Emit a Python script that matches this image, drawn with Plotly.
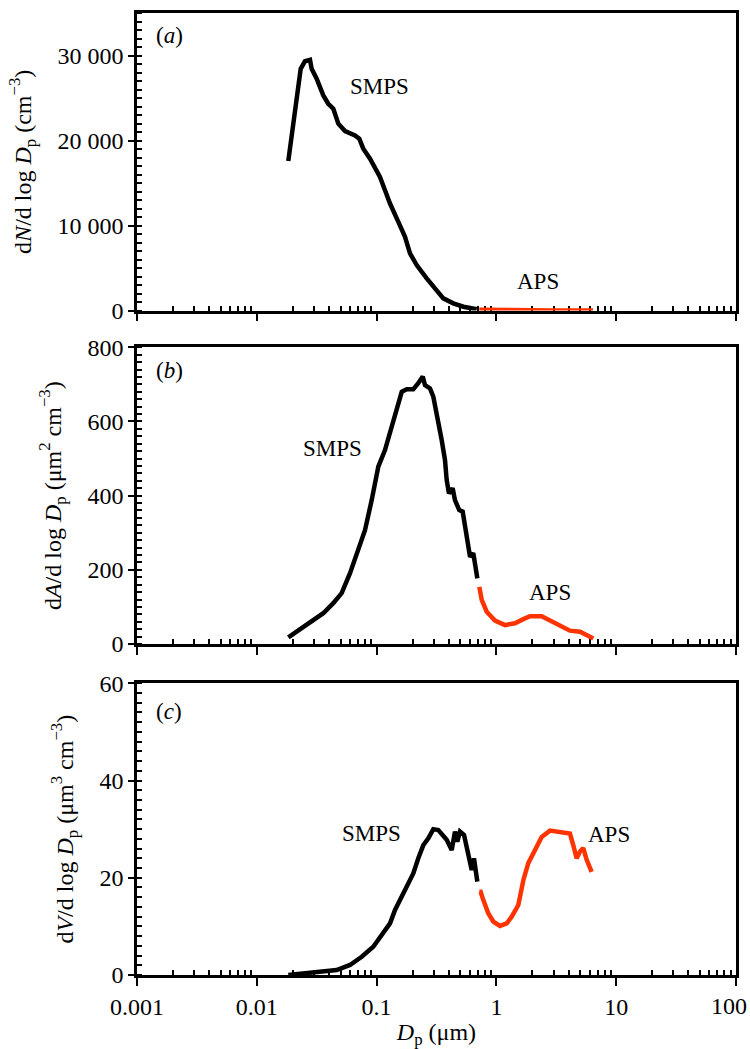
import math
import plotly.graph_objects as go

# ---------------- data ----------------
# (a) number distribution
smps_n_dp = [0.01832, 0.01955, 0.02084, 0.02220, 0.02325, 0.02525, 0.0278, 0.0287, 0.0316, 0.0359,
             0.0395, 0.0435, 0.0479, 0.0545, 0.0660, 0.0717, 0.0774, 0.0881, 0.1067, 0.1175,
             0.1294, 0.1518, 0.1726, 0.1900, 0.2161, 0.2620, 0.307, 0.3606, 0.4368, 0.530, 0.685]
smps_n = [17587, 20404, 23539, 26673, 28434, 29327, 29491, 28434, 27260, 25300,
          24325, 23738, 21977, 21109, 20604, 20216, 19042, 17868, 15708, 14147,
          12585, 10425, 8664, 6715, 5342, 3780, 2606, 1432, 845, 446, 141]
aps_n_dp = [0.72, 0.85, 1.0, 1.5, 2.0, 3.0, 4.0, 5.0, 6.4]
aps_n = [90, 60, 45, 25, 18, 10, 6, 4, 2]

# (b) surface area distribution
smps_a_dp = [0.01832, 0.02153, 0.0278, 0.0359, 0.0435, 0.0511, 0.060, 0.0682, 0.080, 0.0910,
             0.1033, 0.1175, 0.1336, 0.1472, 0.1621, 0.1783, 0.2024, 0.2229, 0.2427, 0.2535,
             0.2792, 0.2973, 0.3273, 0.3493, 0.3724, 0.3846, 0.4018, 0.4315, 0.4509, 0.4899,
             0.5231, 0.5470, 0.5824, 0.6025, 0.6415, 0.6627, 0.6933]
smps_a = [18, 33, 60, 83, 110, 137, 191, 240, 307, 388,
          478, 523, 586, 640, 680, 687, 687, 703, 721, 698,
          689, 667, 604, 550, 496, 442, 406, 420, 388, 361,
          357, 316, 262, 235, 245, 208, 177]
aps_a_dp = [0.72, 0.754, 0.830, 0.973, 1.18, 1.429, 1.678, 1.906, 2.388, 2.80, 3.40, 4.11, 4.99, 5.67, 6.44]
aps_a = [154, 119, 87, 63, 51, 56, 67, 75, 75, 63, 49, 36, 33, 24, 15]

# (c) volume distribution
smps_v_dp = [0.01832, 0.02445, 0.0337, 0.0464, 0.0600, 0.0751, 0.0938, 0.1137, 0.1294, 0.1425,
             0.1621, 0.1841, 0.2024, 0.2229, 0.2454, 0.2702, 0.2973, 0.3273, 0.3493, 0.3846,
             0.4236, 0.4509, 0.472, 0.4966, 0.537, 0.565, 0.594, 0.622, 0.650, 0.676, 0.6933]
smps_v = [0.0, 0.35, 0.56, 1.03, 2.06, 3.76, 5.82, 8.58, 10.63, 13.37,
          16.1, 18.5, 20.9, 24.0, 26.7, 28.1, 30.0, 29.8, 29.0, 27.8,
          25.7, 29.5, 27.4, 29.5, 28.8, 26.4, 23.7, 21.6, 24.0, 21.6, 19.2]
aps_v_dp = [0.72, 0.739, 0.778, 0.855, 0.942, 1.072, 1.219, 1.342, 1.524, 1.678,
            1.846, 2.10, 2.388, 2.80, 3.40, 4.11, 4.38, 4.68, 4.99, 5.31, 5.67, 6.24]
aps_v = [17.1, 17.1, 15.4, 12.7, 11.0, 10.1, 10.6, 12.0, 14.4, 19.5,
         23.0, 25.7, 28.4, 29.7, 29.5, 29.1, 26.7, 24.0, 25.4, 26.1, 23.7, 21.2]

x_tick_vals = [0.001, 0.01, 0.1, 1, 10, 100]
x_tick_text = ["0.001", "0.01", "0.1", "1", "10", ""]
last_x_label = "100"
ya_tick_vals = [0, 10000, 20000, 30000]
ya_tick_text = ["0", "10 000", "20 000", "30 000"]
yb_tick_vals = [0, 200, 400, 600, 800]
yc_tick_vals = [0, 20, 40, 60]

BLACK = "#000000"
RED = "#ff3300"
FONT = "Liberation Serif"
FS = 24
FSA = 23

fig = go.Figure()
series = [
    (smps_n_dp, smps_n, BLACK, "x", "y"),
    (aps_n_dp, aps_n, RED, "x", "y"),
    (smps_a_dp, smps_a, BLACK, "x2", "y2"),
    (aps_a_dp, aps_a, RED, "x2", "y2"),
    (smps_v_dp, smps_v, BLACK, "x3", "y3"),
    (aps_v_dp, aps_v, RED, "x3", "y3"),
]
for xs, ys, col, xa, ya in series:
    fig.add_trace(go.Scatter(x=xs, y=ys, mode="lines", line=dict(color=col, width=4.5),
                             xaxis=xa, yaxis=ya, showlegend=False, hoverinfo="skip",
                             cliponaxis=False))

minor_x = []
for dec in [0.001, 0.01, 0.1, 1, 10]:
    for m in range(2, 10):
        minor_x.append(dec * m)

W, H = 750, 1049
left, right, top, bottom = 137, 14, 13, 74
ph = H - top - bottom
pw = W - left - right
def dom(t, b):
    return [(H - bottom - b) / ph, (H - bottom - t) / ph]

doms = [dom(13, 310.5), dom(347.3, 644), dom(683.3, 975)]

def xaxis(d_anchor, labels):
    return dict(type="log", range=[-3, 2], anchor=d_anchor, domain=[0, 1], automargin=False,
                showline=True, linewidth=2.5, linecolor=BLACK, mirror=True, layer="below traces",
                ticks="outside", ticklen=8, tickwidth=2, tickcolor=BLACK,
                tickvals=x_tick_vals, ticktext=x_tick_text, showticklabels=labels,
                showgrid=False, zeroline=False,
                tickfont=dict(family=FONT, size=FS, color=BLACK),
                minor=dict(tickvals=minor_x, ticks="inside", ticklen=5, tickwidth=2,
                           tickcolor=BLACK, showgrid=False))

def yaxis(anchor, domain, rng, tv, tt, mdt, title):
    return dict(range=rng, anchor=anchor, domain=domain, automargin=False,
                showline=True, linewidth=2.5, linecolor=BLACK, mirror=True, layer="below traces",
                ticks="outside", ticklen=6, tickwidth=2, tickcolor=BLACK,
                tickvals=tv, ticktext=tt, showgrid=False, zeroline=False,
                tickfont=dict(family=FONT, size=FS, color=BLACK),
                title=dict(text=title, font=dict(family=FONT, size=FS, color=BLACK), standoff=20),
                minor=dict(dtick=mdt, ticks="inside", ticklen=5, tickwidth=2,
                           tickcolor=BLACK, showgrid=False))

fig.update_layout(
    width=W, height=H,
    margin=dict(l=left, r=right, t=top, b=bottom, autoexpand=False),
    paper_bgcolor="white", plot_bgcolor="white",
    font=dict(family=FONT, size=FS, color=BLACK),
    xaxis=xaxis("y", False),
    xaxis2=xaxis("y2", False),
    xaxis3=dict(xaxis("y3", True),
                title=dict(text="<i>D</i><sub>p</sub> (μm)",
                           font=dict(family=FONT, size=FS, color=BLACK), standoff=6)),
    yaxis=yaxis("x", doms[0], [0, 35000], ya_tick_vals, ya_tick_text, 1000,
                "d<i>N</i>/d log <i>D</i><sub>p</sub> (cm<sup>−3</sup>)"),
    yaxis2=yaxis("x2", doms[1], [0, 800], yb_tick_vals, [str(v) for v in yb_tick_vals], 20,
                 "d<i>A</i>/d log <i>D</i><sub>p</sub> (μm<sup>2</sup> cm<sup>−3</sup>)"),
    yaxis3=yaxis("x3", doms[2], [0, 60], yc_tick_vals, [str(v) for v in yc_tick_vals], 2,
                 "d<i>V</i>/d log <i>D</i><sub>p</sub> (μm<sup>3</sup> cm<sup>−3</sup>)"),
)

ann = []
for lbl, ax, yy in [("a", "", 0.926), ("b", "2", 0.923), ("c", "3", 0.903)]:
    ann.append(dict(text="(<i>%s</i>)" % lbl, xref="x%s domain" % ax, yref="y%s domain" % ax,
                    x=0.028, y=yy, xanchor="left", yanchor="middle", showarrow=False,
                    font=dict(family=FONT, size=FSA, color=BLACK)))
labels = [
    ("SMPS", "", 0.105, 26356),
    ("APS", "", 2.22, 3463),
    ("SMPS", "2", 0.0425, 528),
    ("APS", "2", 2.80, 140),
    ("SMPS", "3", 0.0906, 29.2),
    ("APS", "3", 8.7, 28.8),
]
for t, ax, xv, yv in labels:
    ann.append(dict(text=t, xref="x%s" % ax, yref="y%s" % ax, x=math.log10(xv), y=yv,
                    xanchor="center", yanchor="middle", showarrow=False,
                    font=dict(family=FONT, size=FSA, color=BLACK)))
# last x tick label kept inside the page edge
ann.append(dict(text=last_x_label, xref="paper", yref="paper",
                x=(W - 1 - left) / pw, y=-(1006 - (H - bottom)) / ph,
                xanchor="right", yanchor="middle", showarrow=False,
                font=dict(family=FONT, size=FS, color=BLACK)))
fig.update_layout(annotations=ann)

fig.write_html("out.html", config={"displayModeBar": False},
               post_script="document.body.style.margin='0';document.body.style.overflow='hidden';")
